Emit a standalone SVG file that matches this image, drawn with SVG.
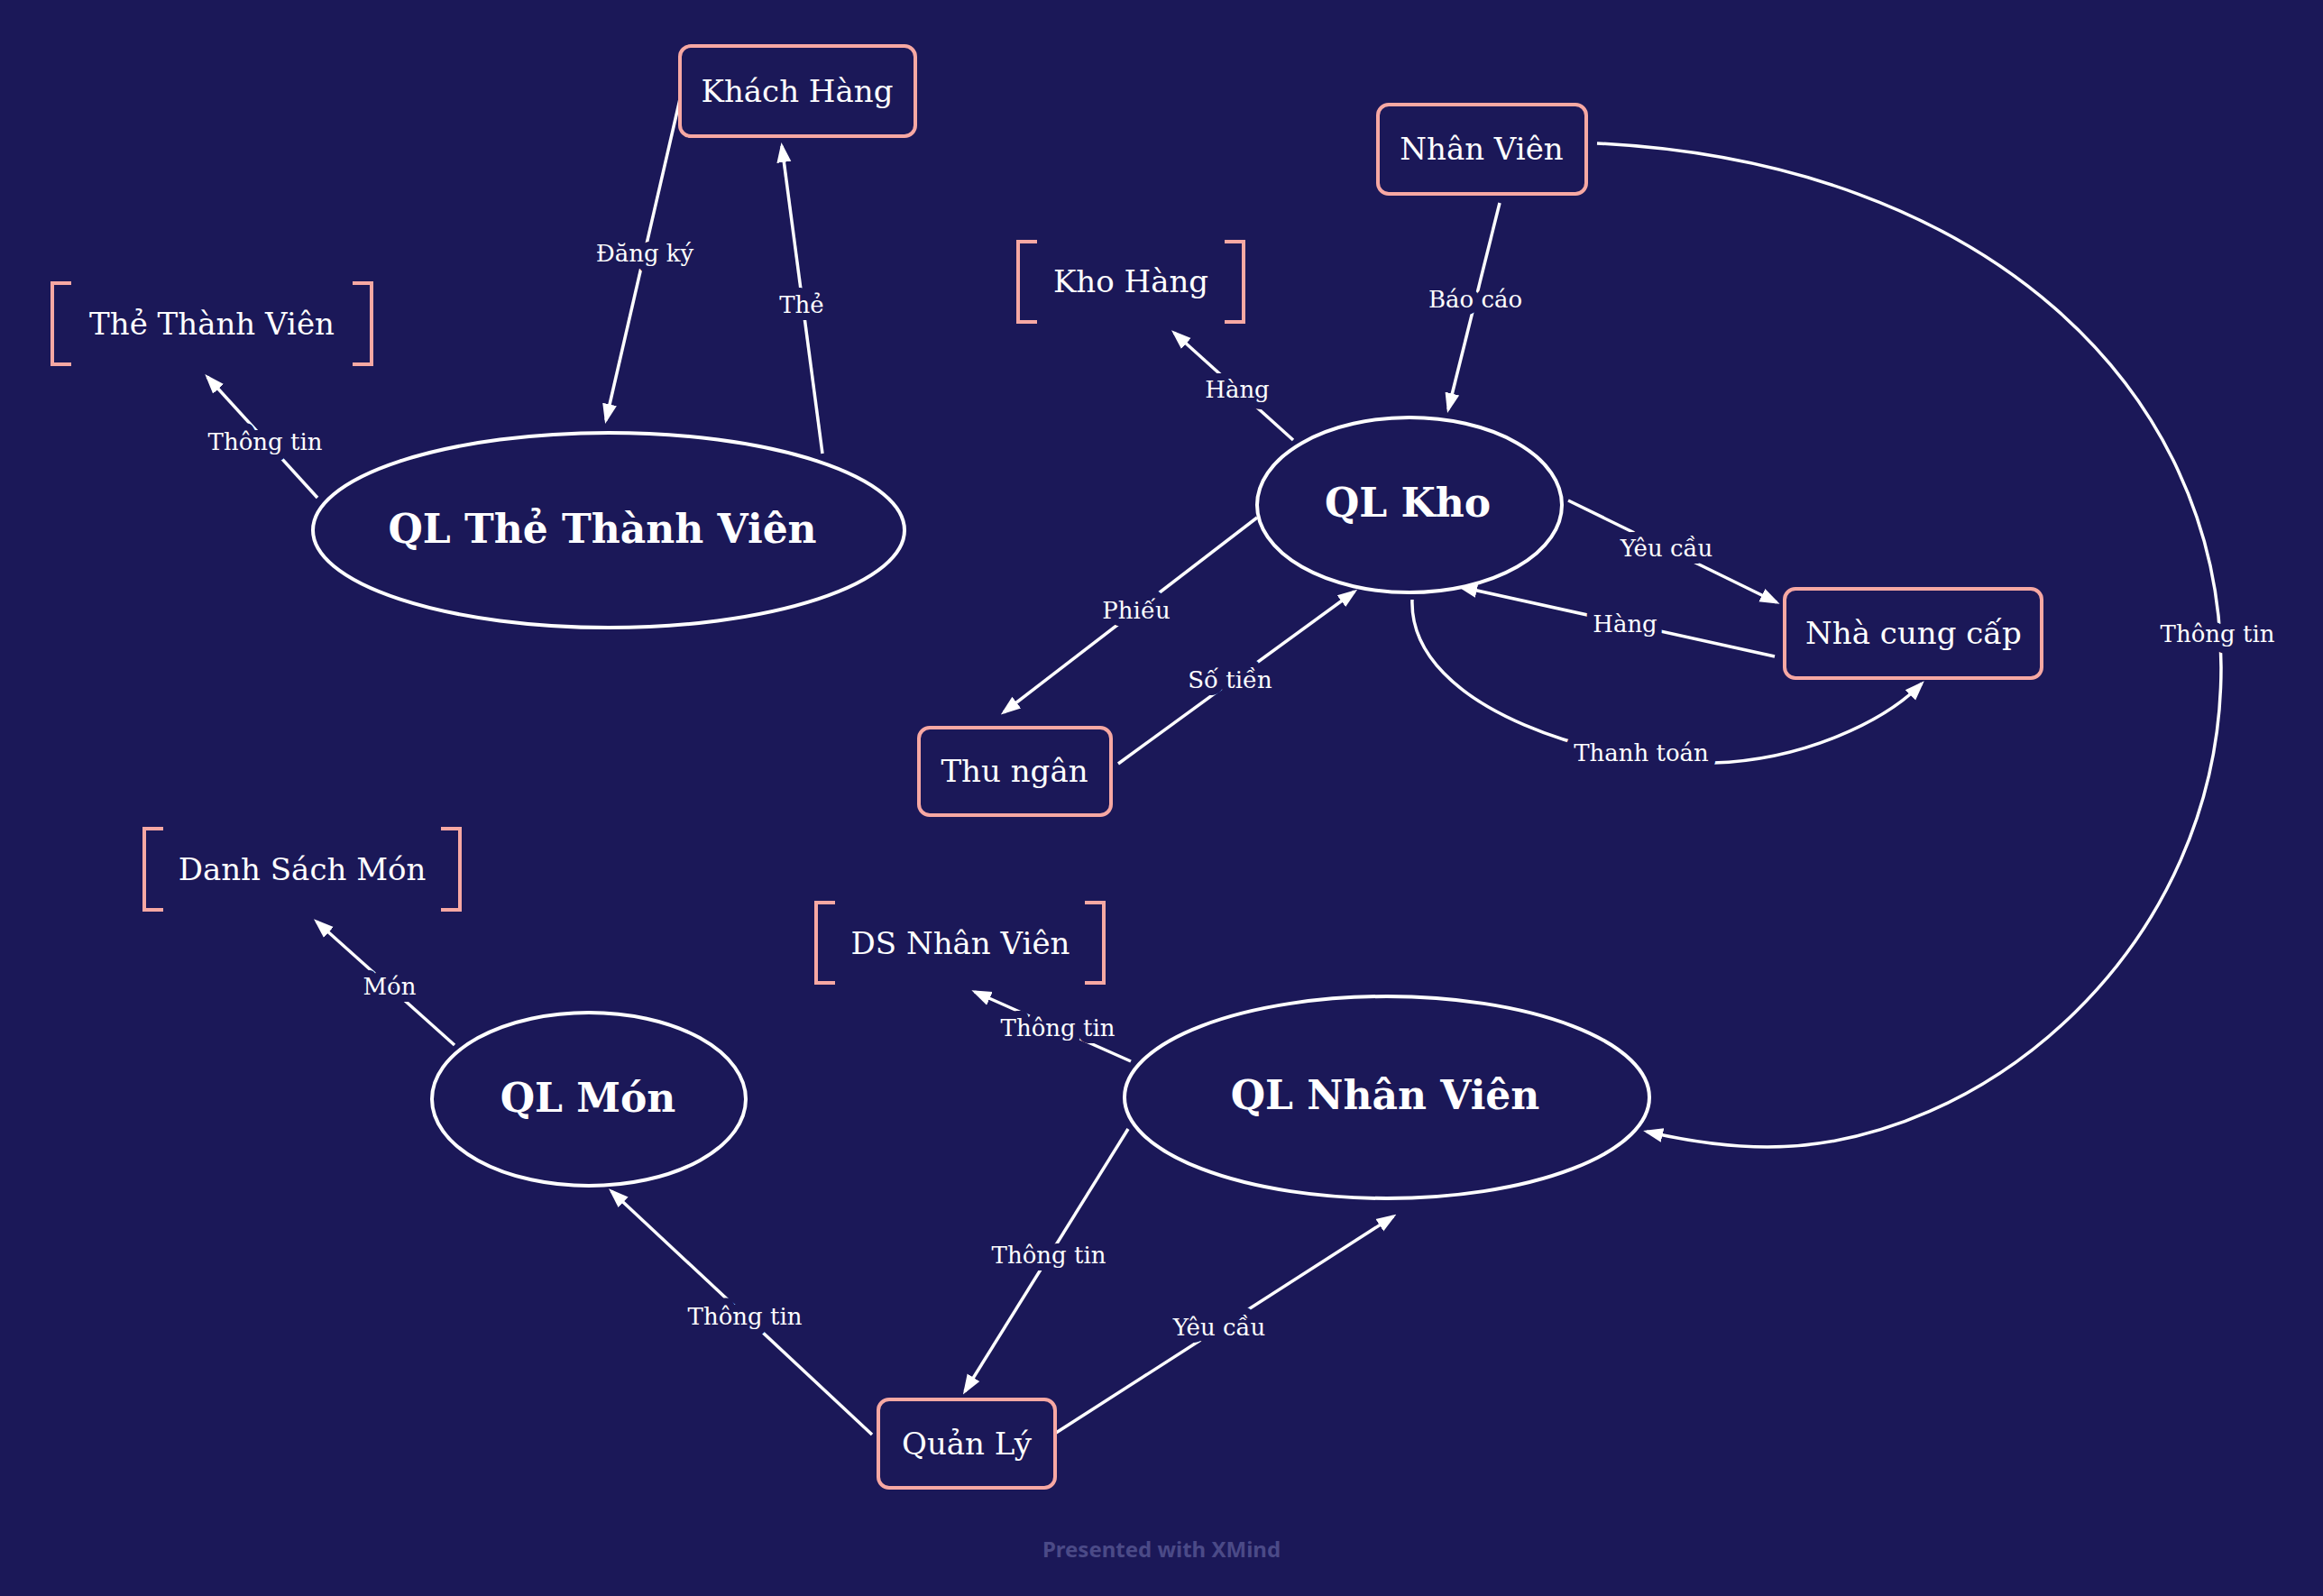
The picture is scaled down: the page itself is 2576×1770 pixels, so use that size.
<svg xmlns="http://www.w3.org/2000/svg" width="2576" height="1770" viewBox="0 0 2576 1770">
<style>
.bg{fill:#1b1858}
.box{fill:#1b1858;stroke:#f7a8a3;stroke-width:4}
.br{fill:none;stroke:#f7a8a3;stroke-width:4}
.ell{fill:#1b1858;stroke:#ffffff;stroke-width:4}
.t{font-family:"DejaVu Serif","Liberation Serif",serif;fill:#ffffff;text-anchor:middle;dominant-baseline:central;font-size:34px}
.tb{font-family:"DejaVu Serif","Liberation Serif",serif;fill:#ffffff;text-anchor:middle;dominant-baseline:central;font-size:44px;font-weight:bold}
.c{fill:none;stroke:#ffffff;stroke-width:3.5}
.l{font-family:"DejaVu Serif","Liberation Serif",serif;fill:#ffffff;text-anchor:middle;dominant-baseline:central;font-size:26px;stroke:#1b1858;stroke-width:16;paint-order:stroke;stroke-linejoin:round}
.wm{font-family:"Noto Sans","DejaVu Sans",sans-serif;fill:#4b4a87;text-anchor:middle;font-size:24px;font-weight:bold}
</style>
<defs>
<marker id="ah" markerUnits="userSpaceOnUse" markerWidth="22" markerHeight="18" refX="18" refY="9" orient="auto">
<path d="M0,1 L22,9 L0,17 z" fill="#ffffff"/>
</marker>
</defs>
<rect class="bg" x="0" y="0" width="2576" height="1770"/>

<g id="connectors">
<g id="c-dangky"><path class="c" d="M754,110 L672,466" marker-end="url(#ah)"/><text class="l" x="715" y="281">Đăng ký</text></g>
<g id="c-the"><path class="c" d="M912,503 L867,162" marker-end="url(#ah)"/><text class="l" x="889" y="338">Thẻ</text></g>
<g id="c-ttv"><path class="c" d="M352,552 L230,418" marker-end="url(#ah)"/><text class="l" x="294" y="490">Thông tin</text></g>
<g id="c-baocao"><path class="c" d="M1663,225 L1606,454" marker-end="url(#ah)"/><text class="l" x="1636" y="332">Báo cáo</text></g>
<g id="c-hang1"><path class="c" d="M1434,488 L1302,369" marker-end="url(#ah)"/><text class="l" x="1372" y="432">Hàng</text></g>
<g id="c-yeucau1"><path class="c" d="M1739,555 L1970,668" marker-end="url(#ah)"/><text class="l" x="1848" y="608">Yêu cầu</text></g>
<g id="c-hang2"><path class="c" d="M1968,728 L1620,651" marker-end="url(#ah)"/><text class="l" x="1802" y="692">Hàng</text></g>
<g id="c-phieu"><path class="c" d="M1394,574 L1113,790" marker-end="url(#ah)"/><text class="l" x="1260" y="677">Phiếu</text></g>
<g id="c-sotien"><path class="c" d="M1240,847 L1502,656" marker-end="url(#ah)"/><text class="l" x="1364" y="754">Số tiền</text></g>
<g id="c-thanhtoan"><path class="c" d="M1566,665 C1562,790 1790,850 1900,846 C2000,843 2090,800 2131,758" marker-end="url(#ah)"/><text class="l" x="1820" y="835">Thanh toán</text></g>
<g id="c-thongtin-nv"><path class="c" d="M1771,159 C2200,180 2463,430 2463,740 C2463,1050 2200,1272 1960,1272 C1910,1272 1865,1264 1826,1255" marker-end="url(#ah)"/><text class="l" x="2459" y="703">Thông tin</text></g>
<g id="c-mon"><path class="c" d="M504,1159 L351,1022" marker-end="url(#ah)"/><text class="l" x="432" y="1094">Món</text></g>
<g id="c-dsnv"><path class="c" d="M1254,1177 L1081,1100" marker-end="url(#ah)"/><text class="l" x="1173" y="1140">Thông tin</text></g>
<g id="c-qlnv-ql"><path class="c" d="M1251,1252 L1070,1543" marker-end="url(#ah)"/><text class="l" x="1163" y="1392">Thông tin</text></g>
<g id="c-ql-mon"><path class="c" d="M967,1591 L678,1321" marker-end="url(#ah)"/><text class="l" x="826" y="1460">Thông tin</text></g>
<g id="c-yeucau2"><path class="c" d="M1171,1589 L1545,1349" marker-end="url(#ah)"/><text class="l" x="1352" y="1472">Yêu cầu</text></g>
</g>

<g id="n-khachhang"><rect class="box" x="754" y="51" width="261" height="100" rx="12"/><text class="t" x="884" y="101">Khách Hàng</text></g>
<g id="n-thethanhvien"><path class="br" d="M79,314 H58 V404 H79 M391,314 H412 V404 H391"/><text class="t" x="235" y="359">Thẻ Thành Viên</text></g>
<g id="n-qlthethanhvien"><ellipse class="ell" cx="675" cy="588" rx="328" ry="108"/><text class="tb" x="668" y="586">QL Thẻ Thành Viên</text></g>
<g id="n-nhanvien"><rect class="box" x="1528" y="116" width="231" height="99" rx="12"/><text class="t" x="1643" y="165">Nhân Viên</text></g>
<g id="n-khohang"><path class="br" d="M1150,268 H1129 V357 H1150 M1358,268 H1379 V357 H1358"/><text class="t" x="1254" y="312">Kho Hàng</text></g>
<g id="n-qlkho"><ellipse class="ell" cx="1563" cy="560" rx="169" ry="97"/><text class="tb" x="1561" y="557">QL Kho</text></g>
<g id="n-nhacungcap"><rect class="box" x="1979" y="653" width="285" height="99" rx="12"/><text class="t" x="2122" y="702">Nhà cung cấp</text></g>
<g id="n-thungan"><rect class="box" x="1019" y="807" width="213" height="97" rx="12"/><text class="t" x="1125" y="855">Thu ngân</text></g>
<g id="n-danhsachmon"><path class="br" d="M181,919 H160 V1009 H181 M489,919 H510 V1009 H489"/><text class="t" x="335" y="964">Danh Sách Món</text></g>
<g id="n-dsnhanvien"><path class="br" d="M926,1001 H905 V1090 H926 M1203,1001 H1224 V1090 H1203"/><text class="t" x="1065" y="1046">DS Nhân Viên</text></g>
<g id="n-qlmon"><ellipse class="ell" cx="653" cy="1219" rx="174" ry="96"/><text class="tb" x="652" y="1217">QL Món</text></g>
<g id="n-qlnhanvien"><ellipse class="ell" cx="1538" cy="1217" rx="291" ry="112"/><text class="tb" x="1536" y="1214">QL Nhân Viên</text></g>
<g id="n-quanly"><rect class="box" x="974" y="1552" width="196" height="98" rx="12"/><text class="t" x="1072" y="1601">Quản Lý</text></g>

<text class="wm" x="1288" y="1727">Presented with XMind</text>
</svg>
